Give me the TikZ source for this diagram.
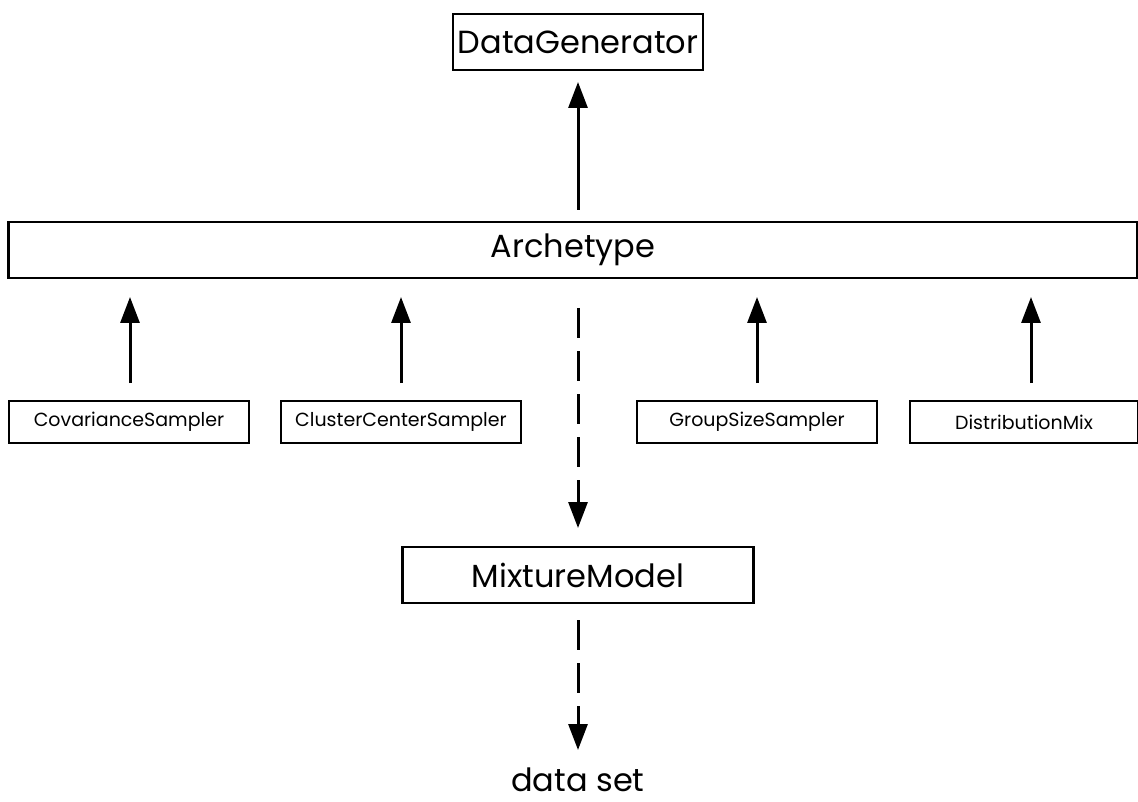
\documentclass[tikz,border=0pt]{standalone}
\usepackage{fontspec}
\setmainfont{Poppins}
\usetikzlibrary{arrows.meta}
\begin{document}
\begin{tikzpicture}[x=1pt,y=-1pt,
  bigbox/.style={draw, line width=2.8pt, minimum height=56pt, inner sep=0pt, font=\fontsize{32}{36}\selectfont},
  smallbox/.style={draw, line width=1.8pt, minimum height=42pt, minimum width=240pt, inner sep=0pt, font=\fontsize{19}{22}\selectfont},
  arr/.style={line width=3pt, -{Triangle[width=19pt,length=26pt]}},
  darr/.style={arr, dash pattern=on 30pt off 13pt}]
\useasboundingbox (0,0) rectangle (1138,802);
\node[bigbox, minimum width=250pt] (dg) at (578,42) {DataGenerator};
\node[bigbox, minimum width=1129pt] (arch) at (573,250) {Archetype};
\node[smallbox] (cov) at (129,422) {CovarianceSampler};
\node[smallbox] (ccs) at (401,422) {ClusterCenterSampler};
\node[smallbox] (gss) at (757,422) {GroupSizeSampler};
\node[smallbox, minimum width=228pt] (dm) at (1024,422) {DistributionMix};
\node[bigbox, minimum width=351pt] (mm) at (578,575) {MixtureModel};
\node[font=\fontsize{32}{36}\selectfont, inner sep=0pt] (ds) at (578,780) {data set};
\coordinate (a1) at (578,210);
\coordinate (a2) at (130,383);
\coordinate (a3) at (401,383);
\coordinate (a4) at (757,383);
\coordinate (a5) at (1031,383);
\coordinate (d1) at (578,308);
\coordinate (d2) at (578,620);
\draw[arr] (a1) -- (578,82);
\draw[arr] (a2) -- (130,297);
\draw[arr] (a3) -- (401,297);
\draw[arr] (a4) -- (757,297);
\draw[arr] (a5) -- (1031,297);
\draw[darr] (d1) -- (578,528);
\draw[darr] (d2) -- (578,750);
\end{tikzpicture}
\end{document}
